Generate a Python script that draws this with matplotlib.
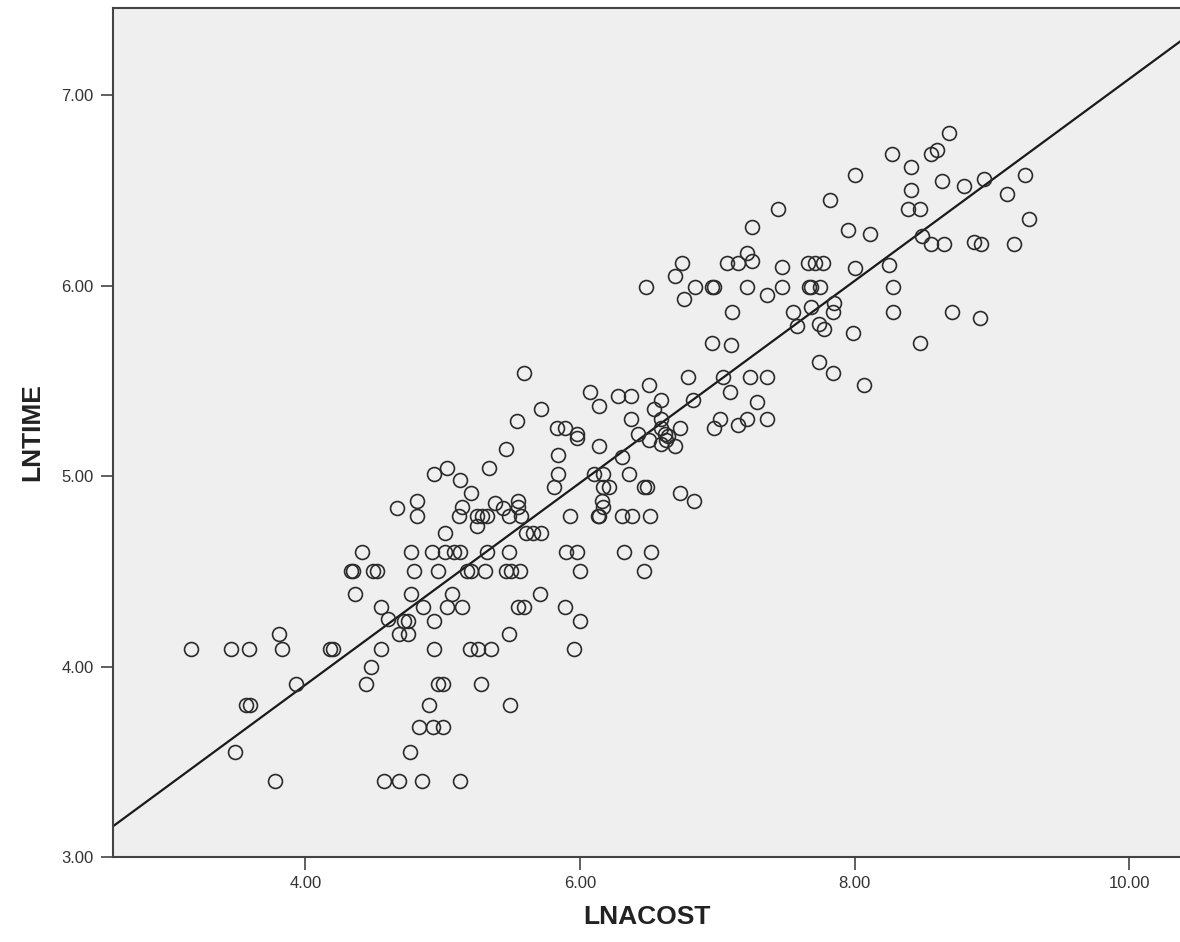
# Scatter of LNTIME against LNACOST with a fitted linear regression line.
import numpy as np
import matplotlib.pyplot as plt

plt.rcParams["font.family"] = ["Liberation Sans", "DejaVu Sans"]

# Data, grouped roughly by region.
lnacost = [
  # Lower-left cluster.
  4.41, 4.33, 4.35, 4.49, 4.52, 4.36, 3.81, 3.17, 3.46, 3.59, 3.83, 4.18, 4.20, 4.55,
  4.48, 4.44, 3.93, 3.57, 3.60, 3.49, 3.78, 4.57, 4.55,
  # Lower-middle.
  4.86, 5.03, 5.14, 5.55, 5.59, 5.89, 4.60, 4.72, 4.75, 4.94, 4.68, 4.75, 5.48,
  4.94, 5.20, 5.26, 5.35, 4.97, 5.00, 5.28, 4.90, 5.49, 4.83, 4.93, 5.00, 4.76,
  4.68, 4.85, 5.13,
  # Middle-left.
  5.59, 5.72, 5.54, 5.46, 5.03, 4.94, 5.34, 5.13, 5.81, 5.21, 4.81, 4.67, 4.81,
  5.14, 5.12, 5.25, 5.29, 5.32, 5.25, 5.38, 5.44, 5.55, 5.55, 5.48, 5.57, 5.61,
  5.66, 5.72, 5.02, 4.77, 4.92, 5.02, 5.08, 5.13, 5.32, 5.48, 4.79, 4.97, 5.18,
  5.21, 5.31, 5.46, 5.50, 5.56, 4.77, 5.07, 5.71,
  # Middle.
  6.48, 6.84, 6.96, 6.98, 6.76, 6.96, 6.79, 6.50, 6.07, 6.14, 6.28, 6.37, 6.59,
  6.54, 6.82, 6.37, 6.59, 6.98, 5.83, 5.89, 5.98, 5.98, 6.42, 6.50, 6.59, 6.62,
  6.64, 6.73, 6.59, 6.69, 6.63, 6.14, 6.31, 5.84, 5.84, 6.10, 6.17, 6.36, 6.17,
  6.21, 6.47, 6.49, 6.73, 6.83, 6.16, 6.17, 5.93, 6.13, 6.14, 6.31, 6.38, 6.51,
  5.90, 5.98, 6.32, 6.52, 6.00, 6.47, 6.00, 5.96, 6.74, 6.69,
  # Upper-middle.
  7.22, 7.25, 7.07, 7.15, 7.47, 7.66, 7.71, 7.77, 8.00, 7.22, 7.36, 7.47, 7.67,
  7.68, 7.75, 7.11, 7.55, 7.68, 7.85, 7.84, 7.58, 7.74, 7.78, 7.99, 7.10, 7.04,
  7.09, 7.24, 7.36, 7.74, 7.84, 8.07, 7.29, 7.02, 7.15, 7.22, 7.36,
  8.00, 7.82, 7.44, 7.25, 7.95, 8.11,
  # Upper-right.
  8.69, 8.27, 8.56, 8.60, 8.41, 8.64, 8.80, 8.94, 9.24, 8.41, 9.11, 8.39, 8.48,
  9.27, 8.49, 8.56, 8.65, 8.87, 8.92, 9.16, 8.25, 8.28, 8.28, 8.71, 8.91, 8.48,
]
lntime = [
  4.60, 4.50, 4.50, 4.50, 4.50, 4.38, 4.17, 4.09, 4.09, 4.09, 4.09, 4.09, 4.09, 4.09,
  4.00, 3.91, 3.91, 3.80, 3.80, 3.55, 3.40, 3.40, 4.31,
  4.31, 4.31, 4.31, 4.31, 4.31, 4.31, 4.25, 4.24, 4.24, 4.24, 4.17, 4.17, 4.17,
  4.09, 4.09, 4.09, 4.09, 3.91, 3.91, 3.91, 3.80, 3.80, 3.68, 3.68, 3.68, 3.55,
  3.40, 3.40, 3.40,
  5.54, 5.35, 5.29, 5.14, 5.04, 5.01, 5.04, 4.98, 4.94, 4.91, 4.87, 4.83, 4.79,
  4.84, 4.79, 4.79, 4.79, 4.79, 4.74, 4.86, 4.83, 4.87, 4.84, 4.79, 4.79, 4.70,
  4.70, 4.70, 4.70, 4.60, 4.60, 4.60, 4.60, 4.60, 4.60, 4.60, 4.50, 4.50, 4.50,
  4.50, 4.50, 4.50, 4.50, 4.50, 4.38, 4.38, 4.38,
  5.99, 5.99, 5.99, 5.99, 5.93, 5.70, 5.52, 5.48, 5.44, 5.37, 5.42, 5.42, 5.40,
  5.35, 5.40, 5.30, 5.30, 5.25, 5.25, 5.25, 5.22, 5.20, 5.22, 5.19, 5.25, 5.22,
  5.21, 5.25, 5.17, 5.16, 5.19, 5.16, 5.10, 5.11, 5.01, 5.01, 5.01, 5.01, 4.94,
  4.94, 4.94, 4.94, 4.91, 4.87, 4.87, 4.84, 4.79, 4.79, 4.79, 4.79, 4.79, 4.79,
  4.60, 4.60, 4.60, 4.60, 4.50, 4.50, 4.24, 4.09, 6.12, 6.05,
  6.17, 6.13, 6.12, 6.12, 6.10, 6.12, 6.12, 6.12, 6.09, 5.99, 5.95, 5.99, 5.99,
  5.99, 5.99, 5.86, 5.86, 5.89, 5.91, 5.86, 5.79, 5.80, 5.77, 5.75, 5.69, 5.52,
  5.44, 5.52, 5.52, 5.60, 5.54, 5.48, 5.39, 5.30, 5.27, 5.30, 5.30,
  6.58, 6.45, 6.40, 6.31, 6.29, 6.27,
  6.80, 6.69, 6.69, 6.71, 6.62, 6.55, 6.52, 6.56, 6.58, 6.50, 6.48, 6.40, 6.40,
  6.35, 6.26, 6.22, 6.22, 6.23, 6.22, 6.22, 6.11, 5.99, 5.86, 5.86, 5.83, 5.70,
]
xTicks = [4, 6, 8, 10]
yTicks = [3, 4, 5, 6, 7]

x = np.array(lnacost)
y = np.array(lntime)

# Least-squares fit line, drawn across the full x range.
slope, intercept = np.polyfit(x, y, 1)

fig = plt.figure(figsize=(11.8, 9.42), dpi=100)
ax = fig.add_axes([0.0958, 0.0902, 0.9042, 0.9013])
ax.set_facecolor("#efefef")

xLim = (2.60, 10.37)
yLim = (3.00, 7.457)
ax.plot(x, y, "o", markersize=10, markerfacecolor="none", markeredgecolor="#2b2b2b",
        markeredgewidth=1.2, zorder=3)
xLine = np.array(xLim)
ax.plot(xLine, intercept + slope * xLine, color="#1a1a1a", lw=1.6, zorder=2)

ax.set_xlim(*xLim)
ax.set_ylim(*yLim)
ax.set_xticks(xTicks)
ax.set_yticks(yTicks)
ax.set_xticklabels([f"{t:.2f}" for t in xTicks], fontsize=12, color="#333333")
ax.set_yticklabels([f"{t:.2f}" for t in yTicks], fontsize=12, color="#333333")
ax.tick_params(direction="out", length=9, width=1.2, color="#444444", pad=5)

for side in ["left", "bottom", "top"]:
  ax.spines[side].set_color("#444444")
  ax.spines[side].set_linewidth(1.5)
ax.spines["right"].set_visible(False)

ax.set_xlabel("LNACOST", fontsize=19, fontweight="bold", color="#222222", labelpad=10)
ax.set_ylabel("LNTIME", fontsize=19, fontweight="bold", color="#222222", labelpad=12)

plt.savefig("out.png", dpi=100)
